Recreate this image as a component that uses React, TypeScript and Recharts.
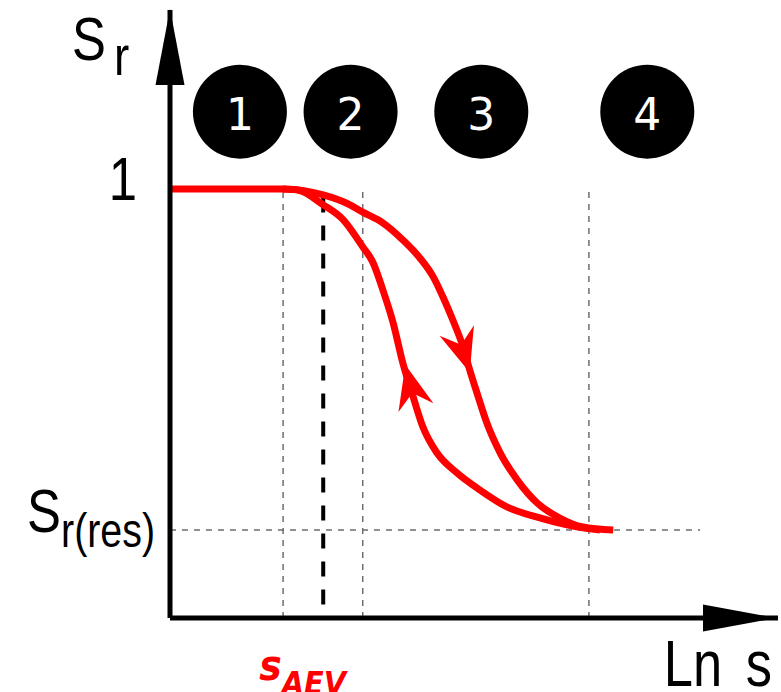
import { ComposedChart, Line, Scatter, XAxis, YAxis, ReferenceLine, ReferenceDot, Label } from 'recharts';

// ln(s) position (0..100 across the axis) and degree of saturation
const dryingX = [0, 18.6, 25.2, 29.6, 31.7, 35.0, 38.3, 41.1, 43.3, 44.9, 46.5, 48.2, 49.3, 50.5, 52.1, 54.3, 57.1, 60.4, 64.1, 67.9, 72.9];
const dryingSr = [1.0, 1.0, 0.986, 0.963, 0.946, 0.921, 0.881, 0.839, 0.795, 0.748, 0.695, 0.632, 0.578, 0.524, 0.455, 0.385, 0.322, 0.268, 0.233, 0.212, 0.205];

const wettingX = [18.6, 20.9, 25.2, 28.5, 31.7, 33.4, 35.0, 36.7, 38.3, 40.0, 41.6, 43.9, 47.2, 51.0, 55.4, 60.4, 65.3, 67.9, 70.7];
const wettingSr = [1.0, 0.998, 0.963, 0.928, 0.865, 0.828, 0.765, 0.688, 0.594, 0.515, 0.445, 0.385, 0.338, 0.298, 0.259, 0.235, 0.217, 0.21, 0.205];

const zoneLabels = ['1', '2', '3', '4'];
const zoneX = [11.5, 29.7, 51.2, 78.5];
const zoneSr = 1.18;
const zoneBounds = [18.6, 31.7, 68.9];

const arrowX = [49.3, 38.7];
const arrowSr = [0.572, 0.59];

const S_AEV = 25.2;
const SR_RES = 0.205;
const X_MAX = 100;
const Y_MAX = 1.417;

const drying = dryingX.map((x, i) => ({ x, sr: dryingSr[i] }));
const wetting = wettingX.map((x, i) => ({ x, sr: wettingSr[i] }));
const zones = zoneX.map((x, i) => ({ x, sr: zoneSr, label: zoneLabels[i] }));
// drying arrow points down the curve, wetting arrow points back up
const arrowAngles = [72.8, -104];
const arrows = arrowX.map((x, i) => ({ x, sr: arrowSr[i], angle: arrowAngles[i] }));

const SANS = '"Liberation Sans", Arial, sans-serif';
const RED = '#ff0000';

// the labels in the figure use a condensed Arial, so squeeze Liberation Sans
function Narrow({ x, y, anchor = 'start', size, children }: any) {
  return (
    <g transform={`translate(${x},${y}) scale(0.82,1)`}>
      <text x={0} y={0} textAnchor={anchor} fontFamily={SANS} fontSize={size} fill="#000">
        {children}
      </text>
    </g>
  );
}

function YTick({ x, y, payload }: any) {
  if (payload.value === 1) {
    return <Narrow x={x - 33} y={y + 11} anchor="end" size={62}>1</Narrow>;
  }
  return (
    <Narrow x={x - 15} y={y + 2} anchor="end" size={62}>
      S<tspan fontSize={48} dy={15}>r(res)</tspan>
    </Narrow>
  );
}

function XTick({ x, y }: any) {
  return (
    <text x={x - 64} y={y + 62} fill={RED} fontFamily='"DejaVu Sans Condensed", "DejaVu Sans", sans-serif' fontWeight="bold" fontStyle="italic" fontSize={42}>
      s<tspan fontSize={32} dy={14}>AEV</tspan>
    </text>
  );
}

function ZoneDot({ cx, cy, payload }: any) {
  return (
    <g>
      <circle cx={cx} cy={cy} r={47} fill="#000" />
      <text x={cx} y={cy + 18} textAnchor="middle" fill="#fff" fontFamily='"DejaVu Sans", sans-serif' fontSize={44}>
        {payload.label}
      </text>
    </g>
  );
}

function ArrowHead({ cx, cy, payload }: any) {
  return (
    <path
      d="M0,0 L-44,-18 L-29,0 L-44,18 Z"
      fill={RED}
      transform={`translate(${cx},${cy}) rotate(${payload.angle})`}
    />
  );
}

export default function App() {
  return (
    <div style={{ position: 'absolute', left: 0, top: 0, width: 781, height: 692, background: '#fff' }}>
      <ComposedChart width={781} height={692} margin={{ top: 10, right: 3, bottom: 10, left: 10 }}>
        <XAxis
          dataKey="x"
          type="number"
          domain={[0, X_MAX]}
          allowDataOverflow
          ticks={[S_AEV]}
          interval={0}
          tick={<XTick />}
          tickLine={false}
          tickSize={0}
          tickMargin={0}
          height={64}
          axisLine={{ stroke: '#000', strokeWidth: 5 }}
        >
          <Label
            content={({ viewBox }: any) => (
              <Narrow x={viewBox.x + viewBox.width - 6} y={viewBox.y + 68} anchor="end" size={64}>
                {'Ln'}
                <tspan dx={11}>{' s'}</tspan>
              </Narrow>
            )}
          />
        </XAxis>
        <YAxis
          dataKey="sr"
          type="number"
          domain={[0, Y_MAX]}
          allowDataOverflow
          ticks={[SR_RES, 1]}
          interval={0}
          tick={<YTick />}
          tickLine={false}
          tickSize={0}
          tickMargin={0}
          width={160}
          axisLine={{ stroke: '#000', strokeWidth: 5 }}
        >
          <Label
            content={({ viewBox }: any) => (
              <Narrow x={viewBox.x + viewBox.width - 98} y={viewBox.y + 50} size={62}>
                S<tspan fontSize={56} dx={10} dy={15}>r</tspan>
              </Narrow>
            )}
          />
        </YAxis>

        {zoneBounds.map((b) => (
          <ReferenceLine
            key={b}
            segment={[{ x: b, y: 0 }, { x: b, y: 0.993 }]}
            stroke="#6e6e6e"
            strokeWidth={1.5}
            strokeDasharray="6 6"
          />
        ))}
        <ReferenceLine
          segment={[{ x: 0, y: SR_RES }, { x: 87.2, y: SR_RES }]}
          stroke="#6e6e6e"
          strokeWidth={1.5}
          strokeDasharray="6 6"
        />
        <ReferenceLine
          segment={[{ x: S_AEV, y: 0.98 }, { x: S_AEV, y: 0.03 }]}
          stroke="#000"
          strokeWidth={4}
          strokeDasharray="15 13"
        />

        <Line data={wetting} dataKey="sr" type="monotone" stroke={RED} strokeWidth={7} dot={false} activeDot={false} isAnimationActive={false} />
        <Line data={drying} dataKey="sr" type="monotone" stroke={RED} strokeWidth={7} dot={false} activeDot={false} isAnimationActive={false} />
        <Scatter data={arrows} dataKey="sr" shape={<ArrowHead />} isAnimationActive={false} />
        <Scatter data={zones} dataKey="sr" shape={<ZoneDot />} isAnimationActive={false} />

        <ReferenceDot
          x={0}
          y={Y_MAX}
          shape={({ cx, cy }: any) => (
            <path d={`M${cx},${cy - 1} L${cx + 14.5},${cy + 75} L${cx - 14.5},${cy + 75} Z`} fill="#000" />
          )}
        />
        <ReferenceDot
          x={X_MAX}
          y={0}
          shape={({ cx, cy }: any) => (
            <path d={`M${cx - 1},${cy} L${cx - 75},${cy - 13.5} L${cx - 75},${cy + 13.5} Z`} fill="#000" />
          )}
        />
      </ComposedChart>
    </div>
  );
}
